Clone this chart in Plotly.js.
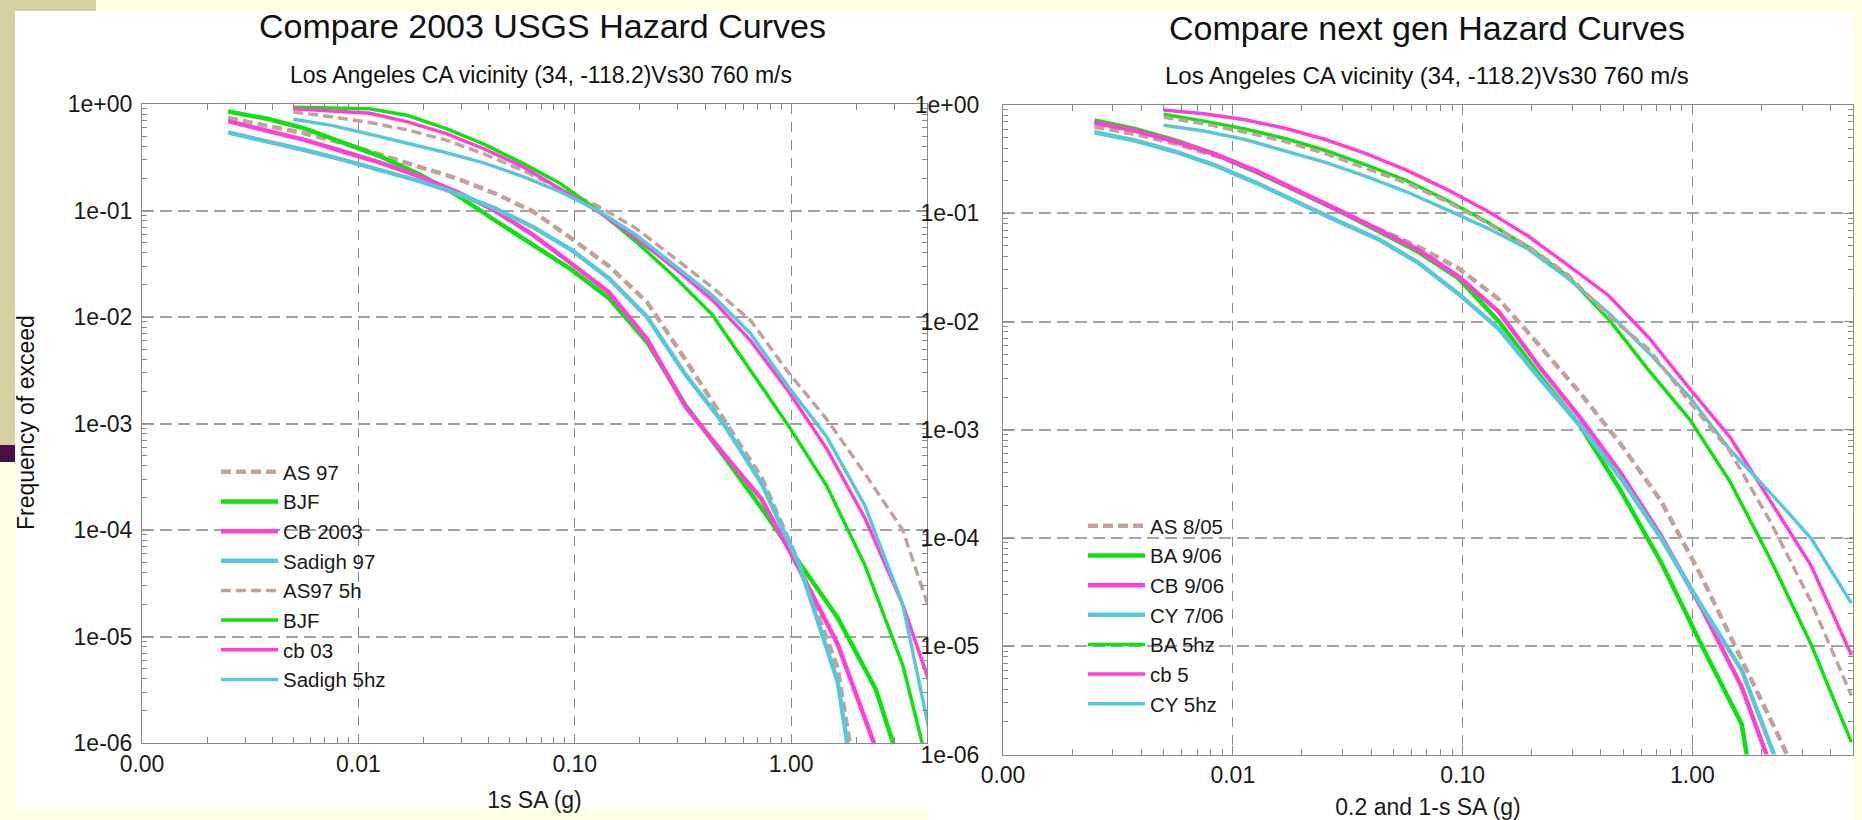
<!DOCTYPE html>
<html>
<head>
<meta charset="utf-8">
<script src="https://cdn.plot.ly/plotly-3.0.1.min.js"></script>
<style>
html,body{margin:0;padding:0;background:#FFFFE6;}
#chart{width:1862px;height:820px;}
</style>
</head>
<body>
<div id="chart"></div>
<script>
// ---------- data ----------
// spectral acceleration levels (g)
const x1s  = [0.0025, 0.00375, 0.00563, 0.00844, 0.0127, 0.019, 0.0285, 0.0427, 0.0641, 0.0961, 0.144, 0.216, 0.324, 0.487, 0.730, 1.09, 1.64, 2.46, 3.69];
const x5hz = [0.005, 0.0075, 0.0113, 0.0169, 0.0253, 0.038, 0.057, 0.0854, 0.128, 0.192, 0.288, 0.432, 0.649, 0.973, 1.46, 2.19, 3.28, 4.92];

// left chart: 2003 USGS models
const leftNames = ['AS 97', 'BJF', 'CB 2003', 'Sadigh 97', 'AS97 5h', 'BJF', 'cb 03', 'Sadigh 5hz'];
const lAS97   = [0.74, 0.63, 0.53, 0.43, 0.33, 0.26, 0.20, 0.145, 0.098, 0.055, 0.030, 0.0138, 4.0e-3, 1.1e-3, 3.1e-4, 4.8e-5, 5.1e-6, 3e-8, 1e-10];
const lBJF    = [0.85, 0.73, 0.59, 0.44, 0.32, 0.22, 0.14, 0.081, 0.048, 0.028, 0.015, 5.8e-3, 1.5e-3, 5.0e-4, 1.6e-4, 4.9e-5, 1.5e-5, 3.2e-6, 2.5e-7];
const lCB03   = [0.69, 0.57, 0.46, 0.36, 0.28, 0.21, 0.15, 0.10, 0.059, 0.032, 0.017, 6.2e-3, 1.45e-3, 5.2e-4, 1.95e-4, 4.3e-5, 8.5e-6, 9e-7, 1e-8];
const lSad97  = [0.54, 0.45, 0.37, 0.30, 0.24, 0.19, 0.145, 0.105, 0.070, 0.043, 0.023, 0.0100, 2.9e-3, 1.0e-3, 2.75e-4, 4.7e-5, 3.8e-6, 1e-8, 1e-10];
const lAS97h  = [0.84, 0.76, 0.67, 0.57, 0.46, 0.34, 0.24, 0.16, 0.11, 0.068, 0.036, 0.019, 9.3e-3, 3.0e-3, 1.1e-3, 3.4e-4, 1.0e-4, 8.5e-6];
const lBJFh   = [0.93, 0.92, 0.90, 0.78, 0.59, 0.42, 0.28, 0.18, 0.10, 0.051, 0.024, 0.0105, 3.2e-3, 9.5e-4, 2.6e-4, 4.7e-5, 5.4e-6, 2e-7];
const lCB03h  = [0.90, 0.86, 0.82, 0.68, 0.53, 0.38, 0.26, 0.16, 0.098, 0.055, 0.029, 0.0145, 6.0e-3, 2.0e-3, 5.8e-4, 1.3e-4, 2.0e-5, 1.8e-6];
const lSadh   = [0.72, 0.63, 0.52, 0.43, 0.35, 0.28, 0.21, 0.15, 0.10, 0.059, 0.031, 0.016, 7.0e-3, 2.2e-3, 7.5e-4, 1.7e-4, 2.0e-5, 4e-7];

// right chart: next generation models
const rightNames = ['AS 8/05', 'BA 9/06', 'CB 9/06', 'CY 7/06', 'BA 5hz', 'cb 5', 'CY 5hz', 'AS 8/05 5hz'];
const rAS    = [0.63, 0.54, 0.44, 0.34, 0.245, 0.165, 0.108, 0.072, 0.049, 0.031, 0.016, 6.0e-3, 2.2e-3, 7.4e-4, 2.2e-4, 4.5e-5, 7.4e-6, 1.26e-6, 1.6e-7];
const rBA    = [0.72, 0.60, 0.47, 0.35, 0.24, 0.16, 0.107, 0.069, 0.044, 0.025, 0.010, 3.2e-3, 1.1e-3, 2.75e-4, 6.0e-5, 1.05e-5, 1.9e-6, 1e-8, 1e-10];
const rCB    = [0.69, 0.58, 0.46, 0.35, 0.245, 0.165, 0.108, 0.071, 0.046, 0.026, 0.0122, 3.8e-3, 1.3e-3, 4.0e-4, 1.05e-4, 2.3e-5, 4.2e-6, 4e-7, 1e-9];
const rCY    = [0.56, 0.47, 0.37, 0.275, 0.19, 0.126, 0.085, 0.058, 0.035, 0.018, 8.5e-3, 3.0e-3, 1.1e-3, 3.6e-4, 1.0e-4, 2.4e-5, 6e-6, 6.3e-7, 1e-8];
const rBAh   = [0.82, 0.71, 0.60, 0.49, 0.38, 0.28, 0.20, 0.132, 0.083, 0.049, 0.026, 0.0105, 3.5e-3, 1.25e-3, 3.3e-4, 6.3e-5, 1.05e-5, 1.3e-6];
const rCBh   = [0.90, 0.83, 0.73, 0.61, 0.48, 0.355, 0.25, 0.166, 0.105, 0.062, 0.033, 0.0174, 7.0e-3, 2.4e-3, 8.5e-4, 2.2e-4, 5.6e-5, 8.3e-6];
const rCYh   = [0.65, 0.575, 0.48, 0.38, 0.295, 0.219, 0.158, 0.108, 0.073, 0.047, 0.025, 0.012, 5.1e-3, 2.0e-3, 6.5e-4, 2.6e-4, 1.0e-4, 2.5e-5];
const rASh   = [0.77, 0.67, 0.56, 0.46, 0.355, 0.26, 0.19, 0.128, 0.081, 0.050, 0.027, 0.0112, 5.5e-3, 1.8e-3, 6.3e-4, 1.4e-4, 2.6e-5, 3.5e-6];

// tick labels
const xTickVals = [0.001, 0.01, 0.1, 1];
const xTickText = ['0.00', '0.01', '0.10', '1.00'];
const yTickVals = [1e-6, 1e-5, 1e-4, 1e-3, 1e-2, 1e-1, 1];
const yTickText = ['1e-06', '1e-05', '1e-04', '1e-03', '1e-02', '1e-01', '1e+00'];

// ---------- styling ----------
const BROWN = '#C4A29C', GREEN = '#11E011', MAGENTA = '#FF40D6', CYAN = '#58C8D6';
const THICK = 4.5, THIN = 3.5;
const FONT = 'Liberation Sans, Arial, Helvetica, sans-serif';
const W = 1862, H = 820;
const px = v => v / W;
const py = v => 1 - v / H;

function tr(x, y, name, color, width, dash, xa, ya, leg, show) {
  return {
    x: x, y: y, name: name, type: 'scatter', mode: 'lines',
    line: {color: color, width: width, dash: dash || 'solid'},
    xaxis: xa, yaxis: ya, legend: leg, showlegend: show !== false,
    hoverinfo: 'name+x+y'
  };
}

const DASH = '10px,5px';
const traces = [
  tr(x1s, lAS97, leftNames[0], BROWN, THICK, DASH, 'x', 'y', 'legend'),
  tr(x1s, lBJF, leftNames[1], GREEN, THICK, null, 'x', 'y', 'legend'),
  tr(x1s, lCB03, leftNames[2], MAGENTA, THICK, null, 'x', 'y', 'legend'),
  tr(x1s, lSad97, leftNames[3], CYAN, THICK, null, 'x', 'y', 'legend'),
  tr(x5hz, lAS97h, leftNames[4], BROWN, THIN, DASH, 'x', 'y', 'legend'),
  tr(x5hz, lBJFh, leftNames[5], GREEN, THIN, null, 'x', 'y', 'legend'),
  tr(x5hz, lCB03h, leftNames[6], MAGENTA, THIN, null, 'x', 'y', 'legend'),
  tr(x5hz, lSadh, leftNames[7], CYAN, THIN, null, 'x', 'y', 'legend'),

  tr(x1s, rAS, rightNames[0], BROWN, THICK, DASH, 'x2', 'y2', 'legend2'),
  tr(x1s, rBA, rightNames[1], GREEN, THICK, null, 'x2', 'y2', 'legend2'),
  tr(x1s, rCB, rightNames[2], MAGENTA, THICK, null, 'x2', 'y2', 'legend2'),
  tr(x1s, rCY, rightNames[3], CYAN, THICK, null, 'x2', 'y2', 'legend2'),
  tr(x5hz, rBAh, rightNames[4], GREEN, THIN, null, 'x2', 'y2', 'legend2'),
  tr(x5hz, rCBh, rightNames[5], MAGENTA, THIN, null, 'x2', 'y2', 'legend2'),
  tr(x5hz, rCYh, rightNames[6], CYAN, THIN, null, 'x2', 'y2', 'legend2'),
  tr(x5hz, rASh, rightNames[7], BROWN, THIN, DASH, 'x2', 'y2', 'legend2', false)
];

const tickFont = {family: FONT, size: 23, color: '#1a1a1a'};

function xAxis(domain, range, title, anchor) {
  return {
    type: 'log', domain: domain, range: range, anchor: anchor,
    showline: true, linecolor: '#8a8a8a', linewidth: 1, mirror: 'allticks',
    ticks: 'inside', ticklen: 9, tickcolor: '#8a8a8a', tickwidth: 1,
    minor: {ticks: 'inside', ticklen: 6, tickcolor: '#8a8a8a', dtick: 'D1', showgrid: false},
    showgrid: true, gridcolor: '#8c8c8c', gridwidth: 1, griddash: '10px,8px',
    zeroline: false, tickmode: 'array', tickvals: xTickVals, ticktext: xTickText,
    tickfont: tickFont, ticklabelstandoff: 0,
    title: {text: title, font: {family: FONT, size: 23, color: '#1a1a1a'}, standoff: 16},
    fixedrange: true
  };
}
function yAxis(domain, anchor, standoff) {
  return {
    type: 'log', domain: domain, range: [-6, 0], anchor: anchor,
    showline: true, linecolor: '#8a8a8a', linewidth: 1, mirror: 'allticks',
    ticks: 'inside', ticklen: 9, tickcolor: '#8a8a8a', tickwidth: 1,
    minor: {ticks: 'inside', ticklen: 5, tickcolor: '#8a8a8a', dtick: 'D1', showgrid: false},
    showgrid: true, gridcolor: '#a3a3a3', gridwidth: 2, griddash: '12px,6px',
    zeroline: false, tickmode: 'array', tickvals: yTickVals, ticktext: yTickText,
    tickfont: tickFont, ticklabelstandoff: standoff,
    fixedrange: true
  };
}

const legendFont = {family: FONT, size: 20.5, color: '#1a1a1a'};

const layout = {
  width: W, height: H,
  margin: {l: 0, r: 0, t: 0, b: 0, pad: 0},
  paper_bgcolor: '#FFFFE6',
  plot_bgcolor: '#FFFFFF',
  font: {family: FONT, size: 23, color: '#1a1a1a'},
  xaxis: xAxis([px(142), px(927)], [-3, 0.628], '1s SA (g)', 'y'),
  yaxis: yAxis([py(743), py(104)], 'x', 4),
  xaxis2: xAxis([px(1003), px(1853)], [-3, 0.699], '0.2 and 1-s SA (g)', 'y2'),
  yaxis2: yAxis([py(754.5), py(105)], 'x2', 18),
  legend: {
    x: px(216), y: py(452), xanchor: 'left', yanchor: 'top',
    bgcolor: 'rgba(0,0,0,0)', borderwidth: 0,
    font: legendFont,
    tracegroupgap: 0, itemwidth: 57, itemclick: false, itemdoubleclick: false
  },
  legend2: {
    x: px(1083), y: py(506), xanchor: 'left', yanchor: 'top',
    bgcolor: 'rgba(0,0,0,0)', borderwidth: 0,
    font: legendFont,
    tracegroupgap: 0, itemwidth: 57, itemclick: false, itemdoubleclick: false
  },
  shapes: [
    // slide decoration
    {type: 'rect', xref: 'paper', yref: 'paper', x0: 0, x1: px(96), y0: py(11), y1: 1,
     fillcolor: '#D4D1A3', line: {width: 0}, layer: 'below'},
    {type: 'rect', xref: 'paper', yref: 'paper', x0: 0, x1: px(15), y0: py(445), y1: 1,
     fillcolor: '#D4D1A3', line: {width: 0}, layer: 'below'},
    {type: 'rect', xref: 'paper', yref: 'paper', x0: 0, x1: px(15), y0: py(462), y1: py(445),
     fillcolor: '#4D1046', line: {width: 0}, layer: 'below'},
    // white chart panels
    {type: 'rect', xref: 'paper', yref: 'paper', x0: px(15), x1: px(927), y0: py(808), y1: py(11),
     fillcolor: '#FFFFFF', line: {width: 0}, layer: 'below'},
    {type: 'rect', xref: 'paper', yref: 'paper', x0: px(927), x1: px(1854), y0: 0, y1: py(11),
     fillcolor: '#FFFFFF', line: {width: 0}, layer: 'below'}
  ],
  annotations: [
    {text: 'Compare 2003 USGS Hazard Curves', xref: 'paper', yref: 'paper', x: px(542), y: py(26),
     xanchor: 'center', yanchor: 'middle', showarrow: false, font: {family: FONT, size: 34, color: '#111'}},
    {text: 'Los Angeles CA vicinity (34, -118.2)Vs30 760 m/s', xref: 'paper', yref: 'paper', x: px(541), y: py(75),
     xanchor: 'center', yanchor: 'middle', showarrow: false, font: {family: FONT, size: 23, color: '#111'}},
    {text: 'Compare next gen Hazard Curves', xref: 'paper', yref: 'paper', x: px(1427), y: py(28),
     xanchor: 'center', yanchor: 'middle', showarrow: false, font: {family: FONT, size: 34, color: '#111'}},
    {text: 'Los Angeles CA vicinity (34, -118.2)Vs30 760 m/s', xref: 'paper', yref: 'paper', x: px(1427), y: py(76),
     xanchor: 'center', yanchor: 'middle', showarrow: false, font: {family: FONT, size: 24, color: '#111'}},
    {text: 'Frequency of exceed', xref: 'paper', yref: 'paper', x: px(26), y: py(423), textangle: -90,
     xanchor: 'center', yanchor: 'middle', showarrow: false, font: {family: FONT, size: 23, color: '#111'}}
  ]
};

Plotly.newPlot('chart', traces, layout, {displayModeBar: false, staticPlot: false, responsive: false});
</script>
</body>
</html>
